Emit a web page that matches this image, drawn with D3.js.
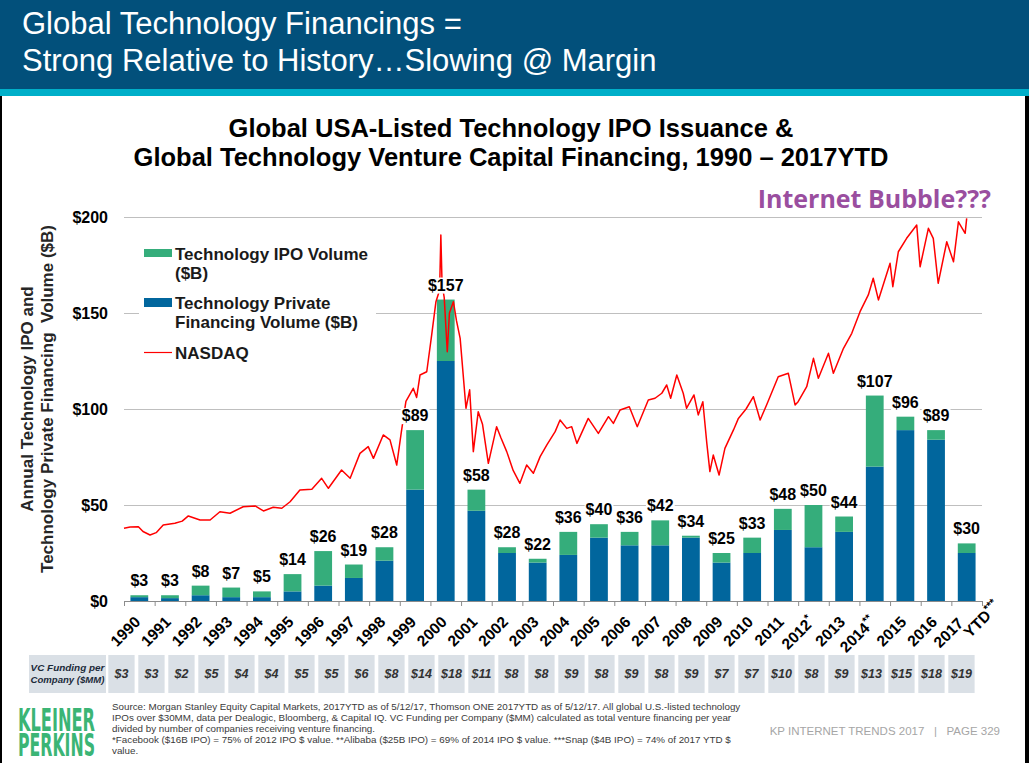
<!DOCTYPE html>
<html lang="en">
<head>
  <meta charset="UTF-8">
  <title>Global Technology Financings</title>
  <script src="https://d3js.org/d3.v7.min.js"></script>
  <style>
    body { margin: 0; background: #fff; }
    svg { display: block; font-family: "Liberation Sans", Arial, sans-serif; }
  </style>
</head>
<body>
<div id="chart"></div>
<script>
  // x categories and their printed tick labels
  const years = ["1990","1991","1992","1993","1994","1995","1996","1997","1998","1999","2000","2001","2002","2003",
                 "2004","2005","2006","2007","2008","2009","2010","2011","2012","2013","2014","2015","2016","2017"];
  const tickLabels = ["1990","1991","1992","1993","1994","1995","1996","1997","1998","1999","2000","2001","2002","2003",
                      "2004","2005","2006","2007","2008","2009","2010","2011","2012*","2013","2014**","2015","2016","2017 YTD***"];

  // $B
  const privateVol = [2,1.5,3,2,2,5,8,12,21,58,125,47,25,20,24,33,29,29,33,20,25,37,28,36,70,89,84,25];
  const ipoVol     = [1,1.5,5,5,3,9,18,7,7,31,32,11,3,2,12,7,7,13,1,5,8,11,22,8,37,7,5,5];
  const totalLabels = [3,3,8,7,5,14,26,19,28,89,157,58,28,22,36,40,36,42,34,25,33,48,50,44,107,96,89,30];

  // VC funding per company row ($MM) - 29 boxes in the original
  const vcFunding = [3,3,2,5,4,4,5,5,6,8,14,18,11,8,8,9,8,9,8,9,7,7,10,8,9,13,15,18,19];

  const yTicks = [0,50,100,150,200];

  // NASDAQ line, [year, height read against the left axis]
  const nasdaq = [
    [1990.00,37.9],[1990.20,38.5],[1990.47,38.7],[1990.62,36.2],[1990.85,34.4],[1991.05,35.6],[1991.28,39.6],
    [1991.66,40.5],[1991.90,41.6],[1992.10,44.3],[1992.48,42.2],[1992.81,42.2],[1993.13,46.5],[1993.46,45.7],
    [1993.89,49.1],[1994.28,49.5],[1994.55,46.9],[1994.87,48.8],[1995.15,48.3],[1995.42,51.7],[1995.74,57.8],
    [1996.13,58.2],[1996.45,63.9],[1996.67,58.7],[1997.10,68.2],[1997.38,63.9],[1997.70,76.9],[1997.97,80.4],
    [1998.14,74.3],[1998.46,86.5],[1998.68,83.9],[1998.90,70.8],[1999.05,88.0],[1999.20,104.0],[1999.44,110.8],
    [1999.55,106.0],[1999.66,117.7],[1999.88,119.4],[2000.04,138.5],[2000.18,155.9],[2000.30,162.0],[2000.34,190.6],
    [2000.38,165.0],[2000.45,158.0],[2000.55,129.8],[2000.62,150.0],[2000.75,155.9],[2000.85,146.0],[2000.97,136.8],
    [2001.16,100.4],[2001.28,110.0],[2001.40,77.8],[2001.56,98.6],[2001.70,92.0],[2001.89,71.7],[2002.16,90.8],
    [2002.30,85.0],[2002.49,77.8],[2002.70,68.0],[2002.92,61.3],[2003.14,70.8],[2003.36,66.5],[2003.58,75.2],
    [2003.80,81.3],[2004.07,88.2],[2004.23,94.3],[2004.45,89.9],[2004.61,90.8],[2004.78,82.1],[2005.15,95.1],
    [2005.48,87.3],[2005.81,96.0],[2005.97,92.5],[2006.19,99.5],[2006.49,101.2],[2006.75,90.8],[2007.11,104.7],
    [2007.33,105.6],[2007.55,108.2],[2007.71,112.5],[2007.84,105.6],[2008.04,117.7],[2008.25,108.2],[2008.36,100.4],
    [2008.60,107.3],[2008.74,96.9],[2008.89,103.8],[2009.02,82.1],[2009.12,67.4],[2009.23,76.0],[2009.42,65.6],
    [2009.61,79.5],[2009.89,89.1],[2010.05,95.1],[2010.30,100.0],[2010.54,106.4],[2010.76,94.3],[2010.97,102.1],
    [2011.35,116.8],[2011.68,118.6],[2011.90,102.1],[2012.00,103.8],[2012.28,111.6],[2012.50,126.4],[2012.66,116.0],
    [2012.99,129.0],[2013.15,118.6],[2013.48,131.6],[2013.75,139.4],[2014.02,150.7],[2014.29,159.4],[2014.45,168.1],
    [2014.62,156.8],[2015.00,175.9],[2015.09,163.7],[2015.27,181.9],[2015.54,188.9],[2015.87,195.8],[2015.98,174.1],
    [2016.25,194.1],[2016.41,188.9],[2016.57,165.5],[2016.85,187.1],[2017.07,176.7],[2017.23,197.5],[2017.45,191.5],
    [2017.50,199.3]
  ];

  const sourceLines = [
    "Source: Morgan Stanley Equity Capital Markets, 2017YTD as of 5/12/17, Thomson ONE 2017YTD as of 5/12/17. All global U.S.-listed technology",
    "IPOs over $30MM, data per Dealogic, Bloomberg, & Capital IQ. VC Funding per Company ($MM) calculated as total venture financing per year",
    "divided by number of companies receiving venture financing.",
    "*Facebook ($16B IPO) = 75% of 2012 IPO $ value. **Alibaba ($25B IPO) = 69% of 2014 IPO $ value. ***Snap ($4B IPO) = 74% of 2017 YTD $",
    "value."
  ];

  const blue = "#01669D", green = "#35AD7B";
  const W = 1029, H = 763;
  const plotLeft = 124, plotRight = 982, plotTop = 217, plotBottom = 601;

  const svg = d3.select("#chart").append("svg")
    .attr("width", W)
    .attr("height", H);

  // header band
  svg.append("rect").attr("width", W).attr("height", 89).attr("fill", "#02507B");
  svg.append("rect").attr("y", 89).attr("width", W).attr("height", 7).attr("fill", "#00AFC9");
  svg.append("text").attr("x", 22).attr("y", 34)
    .attr("fill", "#fff").style("font-size", "31px")
    .text("Global Technology Financings =");
  svg.append("text").attr("x", 22).attr("y", 71)
    .attr("fill", "#fff").style("font-size", "31px")
    .text("Strong Relative to History\u2026Slowing @ Margin");

  // side borders of the slide
  svg.append("rect").attr("x", 0).attr("y", 96).attr("width", 2).attr("height", H - 96).attr("fill", "#000");
  svg.append("rect").attr("x", 1025).attr("y", 96).attr("width", 4).attr("height", H - 96).attr("fill", "#000");

  // chart title
  const title = svg.append("text").attr("text-anchor", "middle")
    .style("font-size", "25.5px").style("font-weight", "bold").attr("fill", "#000");
  title.append("tspan").attr("x", 511).attr("y", 137).text("Global USA-Listed Technology IPO Issuance &");
  title.append("tspan").attr("x", 511).attr("y", 166).text("Global Technology Venture Capital Financing, 1990 \u2013 2017YTD");

  svg.append("text").attr("x", 991).attr("y", 208).attr("text-anchor", "end")
    .style("font-family", "'Open Sans', 'Noto Sans', sans-serif")
    .style("font-size", "25px").style("font-weight", "bold").attr("fill", "#9A4E9F")
    .text("Internet Bubble???");

  // scales
  const x = d3.scaleBand().domain(years).range([plotLeft, plotRight]).paddingInner(0.42).paddingOuter(0.21);
  const xEdge = d3.scaleLinear().domain([0, years.length]).range([plotLeft, plotRight]);
  const xTime = d3.scaleLinear().domain([1990, 2018]).range([plotLeft, plotRight]);
  const y = d3.scaleLinear().domain([0, 200]).range([plotBottom, plotTop]);

  // gridlines + y labels
  const yAxis = svg.append("g")
    .attr("transform", `translate(${plotLeft},0)`)
    .call(d3.axisLeft(y).tickValues(yTicks).tickSize(-(plotRight - plotLeft)).tickPadding(16)
      .tickFormat(d => "$" + d));
  yAxis.select(".domain").remove();
  yAxis.selectAll(".tick line").attr("stroke", "#BFBFBF").attr("stroke-width", 1);
  yAxis.selectAll(".tick text")
    .style("font-size", "16px").style("font-weight", "bold").style("font-family", "'Liberation Sans', Arial, sans-serif")
    .attr("fill", "#000");

  // bottom axis with ticks between categories
  const xAxis = svg.append("g")
    .attr("transform", `translate(0,${plotBottom})`)
    .call(d3.axisBottom(xEdge).tickValues(d3.range(years.length + 1)).tickSize(5).tickSizeOuter(0).tickFormat(""));
  xAxis.select(".domain").attr("stroke", "#8C8C8C");
  xAxis.selectAll(".tick line").attr("stroke", "#8C8C8C");

  // y axis title
  svg.append("text").attr("transform", "translate(33,399) rotate(-90)")
    .attr("text-anchor", "middle").style("font-size", "17px").style("font-weight", "bold").attr("fill", "#262626")
    .text("Annual Technology IPO and");
  svg.append("text").attr("transform", "translate(53,399) rotate(-90)")
    .attr("text-anchor", "middle").style("font-size", "17px").style("font-weight", "bold").attr("fill", "#262626")
    .style("white-space", "pre")
    .text("Technology Private Financing  Volume ($B)");

  // stacked bars
  const rows = years.map((yr, i) => ({ year: yr, privateVol: privateVol[i], ipoVol: ipoVol[i] }));
  const stacked = d3.stack().keys(["privateVol", "ipoVol"])(rows);
  const colors = { privateVol: blue, ipoVol: green };

  svg.append("g").selectAll("g")
    .data(stacked)
    .join("g")
    .attr("fill", d => colors[d.key])
    .selectAll("rect")
    .data(d => d)
    .join("rect")
    .attr("x", d => x(d.data.year))
    .attr("y", d => y(d[1]))
    .attr("width", x.bandwidth())
    .attr("height", d => y(d[0]) - y(d[1]));

  // NASDAQ line
  const line = d3.line().x(d => xTime(d[0])).y(d => y(d[1]));
  svg.append("path")
    .datum(nasdaq)
    .attr("d", line)
    .attr("fill", "none")
    .attr("stroke", "#FF0000")
    .attr("stroke-width", 1.5)
    .attr("stroke-linejoin", "round");

  // total labels with white backing
  const labelG = svg.append("g");
  years.forEach((yr, i) => {
    const g = labelG.append("g");
    const t = g.append("text")
      .attr("x", x(yr) + x.bandwidth() / 2)
      .attr("y", y(totalLabels[i]) - 9)
      .attr("text-anchor", "middle")
      .style("font-size", "16px").style("font-weight", "bold").attr("fill", "#000")
      .text("$" + totalLabels[i]);
    const b = t.node().getBBox();
    g.insert("rect", "text").attr("x", b.x - 1).attr("y", b.y + 1).attr("width", b.width + 2).attr("height", b.height - 1)
      .attr("fill", "#fff");
  });

  // x labels, rotated
  tickLabels.forEach((lab, i) => {
    const cx = x(years[i]) + x.bandwidth() / 2;
    const parts = lab.split(" ");
    const g = svg.append("g").attr("transform", `translate(${cx + 2},623) rotate(-45)`);
    const writeLine = (str, tx, ty, anchor) => {
      const base = str.replace(/\*+$/, "");
      const stars = str.slice(base.length);
      const t = g.append("text").attr("x", tx).attr("y", ty).attr("text-anchor", anchor)
        .style("font-size", "15.5px").style("font-weight", "bold").attr("fill", "#000");
      t.append("tspan").text(base);
      if (stars) t.append("tspan").attr("dy", -6).style("font-size", "11px").text(stars);
    };
    if (parts.length === 1) {
      writeLine(lab, 0, 0, "end");
    } else {
      writeLine(parts[0], -4, -2, "end");
      writeLine(parts[1], -10, 12, "start");
    }
  });

  // legend
  const legend = svg.append("g");
  legend.append("rect").attr("x", 139).attr("y", 236).attr("width", 237).attr("height", 130).attr("fill", "#fff");
  legend.append("rect").attr("x", 144).attr("y", 249).attr("width", 28).attr("height", 8).attr("fill", green);
  legend.append("rect").attr("x", 144).attr("y", 298).attr("width", 28).attr("height", 9).attr("fill", blue);
  legend.append("line").attr("x1", 144).attr("x2", 172).attr("y1", 352.5).attr("y2", 352.5)
    .attr("stroke", "#FF0000").attr("stroke-width", 1.2);
  const legText = [["Technology IPO Volume", 259.5], ["($B)", 278.5], ["Technology Private", 309], ["Financing Volume ($B)", 328], ["NASDAQ", 358.5]];
  legend.selectAll("text.leg").data(legText).join("text")
    .attr("class", "leg")
    .attr("x", 175).attr("y", d => d[1])
    .style("font-size", "17px").style("font-weight", "bold").attr("fill", "#1a1a1a")
    .text(d => d[0]);

  // VC funding row
  const vx = d3.scaleBand().domain(d3.range(vcFunding.length)).range([106.45, 976.45]).paddingInner(0.123).paddingOuter(0.0615);
  svg.append("rect").attr("x", 29).attr("y", 655).attr("width", 77).attr("height", 38).attr("fill", "#DAE0E6");
  const vcLab = svg.append("g").attr("fill", "#1C2A3A")
    .style("font-weight", "bold").style("font-style", "italic");
  [["VC Funding per", 670.5], ["Company ($MM)", 683]].forEach(([txt, ty]) => {
    const t = vcLab.append("text").attr("x", 67.5).attr("y", ty).attr("text-anchor", "middle")
      .style("font-size", "11px").text(txt);
    const len = t.node().getComputedTextLength();
    if (len > 74) t.style("font-size", (11 * 74 / len).toFixed(2) + "px");
  });

  const vc = svg.append("g").selectAll("g").data(vcFunding).join("g");
  vc.append("rect")
    .attr("x", (d, i) => vx(i)).attr("y", 655)
    .attr("width", vx.bandwidth()).attr("height", 38)
    .attr("fill", "#DAE0E6");
  vc.append("text")
    .attr("x", (d, i) => vx(i) + vx.bandwidth() / 2).attr("y", 678)
    .attr("text-anchor", "middle")
    .style("font-size", "12.5px").style("font-weight", "bold").style("font-style", "italic").attr("fill", "#333")
    .text(d => "$" + d);

  // footer logo, squeezed to the logo width
  const logo = svg.append("g").attr("fill", "#3BB575")
    .style("font-family", "'Liberation Sans Narrow', 'DejaVu Sans Condensed', sans-serif")
    .style("font-weight", "bold").style("font-size", "32px");
  [["KLEINER", 731], ["PERKINS", 756]].forEach(([txt, ty]) => {
    const g = logo.append("g");
    const t = g.append("text").attr("x", 0).attr("y", 0).text(txt);
    const len = t.node().getComputedTextLength();
    g.attr("transform", `translate(18,${ty}) scale(${77 / len},1)`);
  });

  svg.append("g").selectAll("text").data(sourceLines).join("text")
    .attr("x", 112).attr("y", (d, i) => 710 + i * 11)
    .style("font-size", "9.8px").attr("fill", "#3a3a3a")
    .text(d => d);

  svg.append("text").attr("x", 1000).attr("y", 735).attr("text-anchor", "end")
    .style("font-size", "11.5px").attr("fill", "#A6A6A6").style("white-space", "pre")
    .text("KP INTERNET TRENDS 2017   |   PAGE 329");
</script>
</body>
</html>
